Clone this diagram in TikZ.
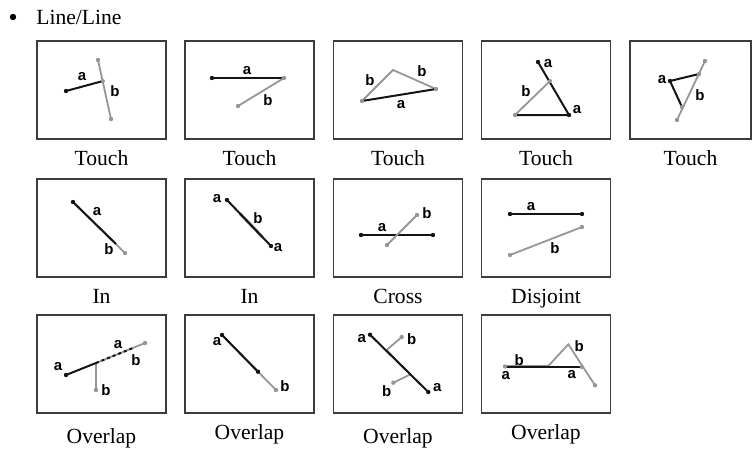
\documentclass[tikz,border=0pt]{standalone}
\usepackage{fontspec}
\setmainfont{Liberation Serif}
\setsansfont{Liberation Sans}
\usetikzlibrary{positioning}
\definecolor{inka}{RGB}{20,20,20}
\definecolor{inkb}{RGB}{150,150,150}
\definecolor{boxgrey}{RGB}{60,60,60}

\tikzset{
  panel/.style={draw=boxgrey, line width=0.6pt, minimum width=64.5pt, minimum height=49pt, inner sep=0pt},
  captxt/.style={font=\fontsize{10.8}{12}\selectfont, inner sep=0pt},
  linea/.style={draw=inka, line width=1pt},
  lineb/.style={draw=inkb, line width=0.9pt},
  lbl/.style={font=\sffamily\bfseries\fontsize{7.5}{8}\selectfont, inner sep=0pt}
}

\begin{document}
\begin{tikzpicture}[x=0.5pt, y=-0.5pt]
  \useasboundingbox (0,0) rectangle (752,450);
  \fill (13,17) circle (1.6pt);
  \node[font=\fontsize{10.8}{12}\selectfont, anchor=west, inner sep=0pt] (title) at (36,17) {Line/Line};

  % row 1
  \node[panel] (t1) at (101.5,90) {};
  \node[panel] (t2) at (249.5,90) {};
  \node[panel] (t3) at (398,90) {};
  \node[panel] (t4) at (546,90) {};
  \node[panel, minimum width=60.5pt] (t5) at (690.5,90) {};
  \foreach \n in {t1,t2,t3,t4,t5}
    \node[captxt, below=5.5pt of \n] (\n txt) {Touch};

  % row 2
  \node[panel] (i1) at (101.5,228) {};
  \node[panel] (i2) at (249.5,228) {};
  \node[panel] (c1) at (398,228) {};
  \node[panel] (d1) at (546,228) {};
  \node[captxt, below=5.5pt of i1] (i1txt) {In};
  \node[captxt, below=5.5pt of i2] (i2txt) {In};
  \node[captxt, below=5.5pt of c1] (c1txt) {Cross};
  \node[captxt, below=5.5pt of d1] (d1txt) {Disjoint};

  % row 3
  \node[panel] (o1) at (101.5,364) {};
  \node[panel] (o2) at (249.5,364) {};
  \node[panel] (o3) at (398,364) {};
  \node[panel] (o4) at (546,364) {};
  \node[captxt, below=7.5pt of o1] (o1txt) {Overlap};
  \node[captxt, below=5.5pt of o2] (o2txt) {Overlap};
  \node[captxt, below=7.5pt of o3] (o3txt) {Overlap};
  \node[captxt, below=5.5pt of o4] (o4txt) {Overlap};

  % touch 1
  \draw[linea] (66,91) -- (103,81);
  \draw[lineb] (98,60) -- (111,119);
  \fill[inka] (66,91) circle (1.1pt);
  \fill[inkb] (98,60) circle (1.1pt) (111,119) circle (1.1pt) (103,81) circle (1pt);
  \node[lbl] (t1a) at (82,77) {a};
  \node[lbl] (t1b) at (115,91) {b};

  % touch 2
  \draw[linea] (212,78) -- (284,78);
  \draw[lineb] (284,78) -- (238,106);
  \fill[inka] (212,78) circle (1.1pt);
  \fill[inkb] (284,78) circle (1.1pt) (238,106) circle (1.1pt);
  \node[lbl] (t2a) at (247,71) {a};
  \node[lbl] (t2b) at (268,100) {b};

  % touch 3
  \draw[lineb] (362,101) -- (393,70) -- (436,89);
  \draw[linea] (362,101) -- (436,89);
  \fill[inkb] (362,101) circle (1.1pt) (436,89) circle (1.1pt);
  \node[lbl] (t3b1) at (370,80) {b};
  \node[lbl] (t3b2) at (422,71) {b};
  \node[lbl] (t3a) at (401,105) {a};

  % touch 4
  \draw[linea] (538,62) -- (569,115) -- (515,115);
  \draw[lineb] (515,115) -- (550,81);
  \fill[inka] (538,62) circle (1.1pt) (569,115) circle (1.1pt);
  \fill[inkb] (515,115) circle (1.1pt) (550,81) circle (1pt);
  \node[lbl] (t4a1) at (548,64) {a};
  \node[lbl] (t4a2) at (577,110) {a};
  \node[lbl] (t4b) at (526,91) {b};

  % touch 5
  \draw[linea] (699,74) -- (670,81) -- (682,107);
  \draw[lineb] (705,61) -- (677,120);
  \fill[inka] (670,81) circle (1.1pt);
  \fill[inkb] (705,61) circle (1.1pt) (677,120) circle (1.1pt) (699,74) circle (1.1pt) (682,107) circle (1.1pt);
  \node[lbl] (t5a) at (662,80) {a};
  \node[lbl] (t5b) at (700,95) {b};

  % in 1
  \draw[lineb] (73,202) -- (125,253);
  \draw[linea] (73,202) -- (116,244);
  \fill[inka] (73,202) circle (1.1pt);
  \fill[inkb] (125,253) circle (1.1pt);
  \node[lbl] (i1a) at (97,212) {a};
  \node[lbl] (i1b) at (109,249) {b};

  % in 2
  \draw[lineb, line width=1.5pt] (240,213.6) -- (262,236.6);
  \draw[linea] (227,200) -- (271,246);
  \fill[inka] (227,200) circle (1.1pt) (271,246) circle (1.1pt);
  \node[lbl] (i2a1) at (217,199) {a};
  \node[lbl] (i2b) at (258,218) {b};
  \node[lbl] (i2a2) at (278,248) {a};

  % cross
  \draw[linea] (361,235) -- (433,235);
  \draw[lineb] (387,245) -- (417,215);
  \fill[inka] (361,235) circle (1.1pt) (433,235) circle (1.1pt);
  \fill[inkb] (387,245) circle (1.1pt) (417,215) circle (1.1pt);
  \node[lbl] (c1a) at (382,228) {a};
  \node[lbl] (c1b) at (427,213) {b};

  % disjoint
  \draw[linea] (510,214) -- (582,214);
  \draw[lineb] (510,255) -- (582,227);
  \fill[inka] (510,214) circle (1.1pt) (582,214) circle (1.1pt);
  \fill[inkb] (510,255) circle (1.1pt) (582,227) circle (1.1pt);
  \node[lbl] (d1a) at (531,207) {a};
  \node[lbl] (d1b) at (555,248) {b};

  % overlap 1
  \draw[lineb] (96,390) -- (96,363) -- (145,343);
  \draw[linea] (66,375) -- (96,363);
  \draw[linea, dash pattern=on 1.5pt off 1.5pt] (96,363) -- (133,348);
  \fill[inka] (66,375) circle (1.1pt);
  \fill[inkb] (96,390) circle (1.1pt) (145,343) circle (1.1pt);
  \node[lbl] (o1a1) at (58,367) {a};
  \node[lbl] (o1a2) at (118,345) {a};
  \node[lbl] (o1b1) at (136,360) {b};
  \node[lbl] (o1b2) at (106,390) {b};

  % overlap 2
  \draw[lineb] (222,335) -- (276,390);
  \draw[linea] (222,335) -- (258,371.7);
  \fill[inka] (222,335) circle (1.1pt) (258,371.7) circle (1.1pt);
  \fill[inkb] (276,390) circle (1.1pt);
  \node[lbl] (o2a) at (217,342) {a};
  \node[lbl] (o2b) at (285,386) {b};

  % overlap 3
  \draw[lineb] (401.7,337) -- (386.5,350.2) -- (410.5,374.4) -- (393.3,382.7);
  \draw[linea] (370,334.7) -- (428.3,392);
  \fill[inka] (370,334.7) circle (1.1pt) (428.3,392) circle (1.1pt);
  \fill[inkb] (401.7,337) circle (1.1pt) (393.3,382.7) circle (1.1pt);
  \node[lbl] (o3a1) at (361.7,338.7) {a};
  \node[lbl] (o3b1) at (411.7,339.3) {b};
  \node[lbl] (o3b2) at (386.7,391.3) {b};
  \node[lbl] (o3a2) at (437.3,388) {a};

  % overlap 4
  \draw[lineb] (505,366) -- (548.3,366) -- (568.3,344.3) -- (595,385.3);
  \draw[linea] (505,367) -- (581.7,367);
  \fill[inkb] (505,366.5) circle (1.1pt) (595,385.3) circle (1.1pt) (581.7,367) circle (1pt);
  \node[lbl] (o4b1) at (519.3,360.3) {b};
  \node[lbl] (o4b2) at (579.3,346) {b};
  \node[lbl] (o4a1) at (505.7,376) {a};
  \node[lbl] (o4a2) at (571.7,374.7) {a};
\end{tikzpicture}
\end{document}
